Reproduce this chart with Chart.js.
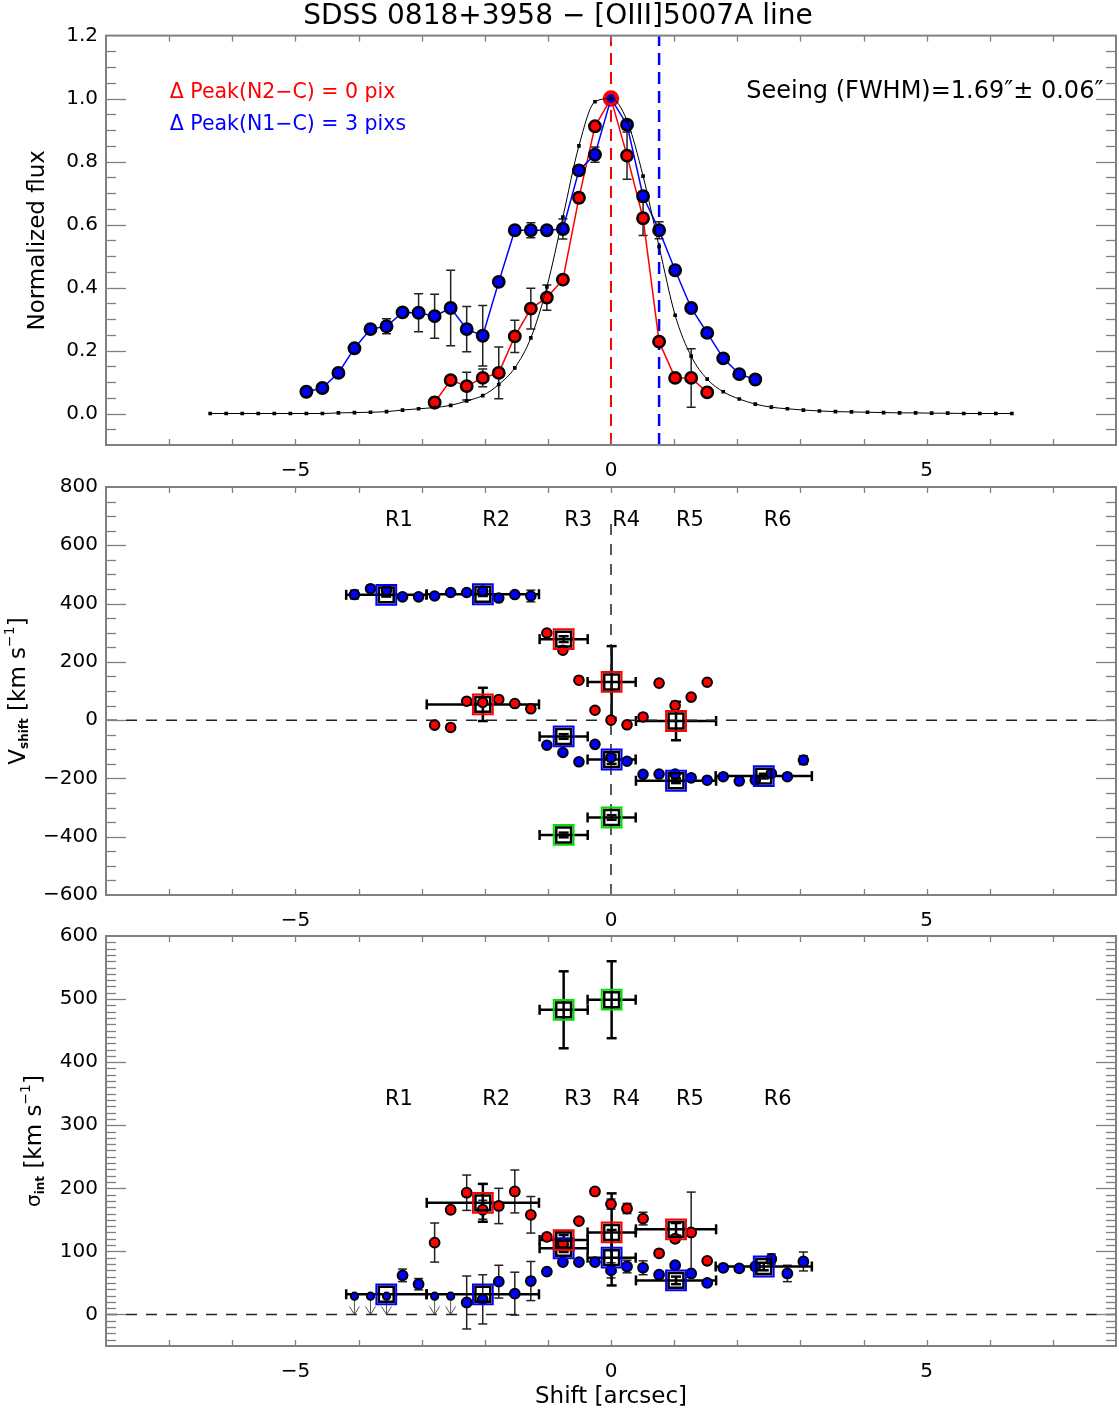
<!DOCTYPE html>
<html><head><meta charset="utf-8">
<script src="https://cdn.jsdelivr.net/npm/chart.js@4/dist/chart.umd.min.js"></script>
<style>
html,body{margin:0;padding:0;background:#fff;overflow:hidden;}
#wrap{position:relative;width:1119px;height:1413px;background:#fff;}
canvas{position:absolute;left:0;top:0;}
</style></head><body><div id="wrap">
<canvas id="c1" width="1119" height="1413"></canvas>
<canvas id="c2" width="1119" height="1413"></canvas>
<canvas id="c3" width="1119" height="1413"></canvas>
</div>
<script>
// ---------------- DATA ----------------
const PIX = 0.254; // arcsec per pixel
function pixRange(a, b) { const r = []; for (let i = a; i <= b; i++) r.push(i); return r; }

// Panel 1: normalized flux profiles
const modelPix = pixRange(-25, 25);
const modelFlux = [0,0,0,0,0,0,0,0,0.002,0.003,0.004,0.006,0.011,0.015,0.019,0.026,0.040,0.057,0.092,0.145,0.240,0.402,
  0.624,0.85,0.99,1.0,0.93,0.754,0.53,0.312,0.182,0.109,0.069,0.046,0.030,0.020,0.015,0.011,
  0.008,0.006,0.005,0.004,0.003,0.002,0.002,0.001,0.001,0,0,0,0];
const n2FluxPix = pixRange(-11, 6);
const n2Flux    = [0.035,0.106,0.087,0.113,0.129,0.245,0.333,0.368,0.425,0.685,0.912,1.0,0.819,0.62,0.228,0.113,0.113,0.067];
const n2FluxErr = [0.016,0,0.044,0.028,0.082,0.051,0.065,0.04,0,0.015,0.01,0,0.075,0.055,0,0,0.093,0];
const n1FluxPix = pixRange(-19, 9);
const n1Flux    = [0.069,0.081,0.129,0.207,0.268,0.277,0.321,0.320,0.309,0.335,0.268,0.247,0.418,0.582,0.582,0.582,0.586,
  0.772,0.822,1.0,0.917,0.69,0.582,0.455,0.335,0.256,0.175,0.125,0.108];
const n1FluxErr = [0,0,0,0,0,0.024,0,0.06,0.07,0.12,0.072,0.096,0.01,0,0.024,0.013,0.032,0,0.024,0,0,0.015,0.027,0,0,0,0,0,0];
const peakShiftN2 = 0, peakShiftN1 = 3; // pixels

// Panel 2: velocity shifts
const n1VelPix = pixRange(-16, 12);
const n1Vel    = [431,451,446,423,423,426,438,438,443,419,431,426,-86,-111,-143,-83,-128,-141,
  -186,-185,-185,-198,-206,-194,-209,-206,-183,-194,-137];
const n1VelErr = [15,0,0,0,0,0,0,0,0,0,0,20,0,0,0,0,0,0,0,0,0,10,0,0,0,0,0,0,15];
const n2VelPix = pixRange(-11, 6);
const n2Vel    = [-17,-25,65,61,71,57,39,299,240,137,34,0,-16,11,127,50,79,130];
const n2VelErr = [0,0,0,0,0,0,0,0,0,0,0,0,0,0,0,10,0,0];

// Regions
const regionNames = ['R1','R2','R3','R4','R5','R6'];
const regionCenter = [-3.56,-2.03,-0.75,0.01,1.03,2.42];
const regionHalfWidth = [0.635,0.889,0.381,0.381,0.635,0.762];
const regionLabelX = [-3.36,-1.82,-0.52,0.24,1.25,2.64];
const n2RegIdx = [1,2,3,4];
const brRegIdx = [2,3];
const n1RegVel = [430,432,-56,-135,-208,-192];
const n1RegVelErr = [6,6,8,15,8,8];
const n2RegVel = [54,278,131,-3];
const n2RegVelErr = [57,10,123,66];
const brRegVel = [-394,-334];
const brRegVelErr = [8,8];

// Panel 3: intrinsic dispersion
const n1SigPix = pixRange(-16, 12);
const n1Sig    = [29,29,29,62,48,29,29,19,24,52,33,53,68,83,83,83,70,76,74,63,78,65,50,74,73,76,88,65,84];
const n1SigErr = [0,0,0,10,9,0,0,42,39,26,34,31,0,0,0,0,12,10,11,0,0,0,0,0,0,0,8,13,15];
const n1SigUL  = [1,1,1,0,0,1,1,0,0,0,0,0,0,0,0,0,0,0,0,0,0,0,0,0,0,0,0,0,0];
const n2SigPix = pixRange(-11, 6);
const n2Sig    = [114,166,193,166,172,195,158,123,113,148,195,175,168,152,97,120,130,85];
const n2SigErr = [31,0,28,15,28,34,29,0,0,0,0,8,8,10,0,5,64,0];
const n1RegSig = [32,32,105,90,54,76];
const n1RegSigErr = [0,0,6,44,6,6];
const n2RegSig = [177,118,130,135];
const n2RegSigErr = [30,8,62,10];
const brRegSig = [483,499];
const brRegSigErr = [61,61];

const xTickLabels = [-5,0,5];

// ---------------- HELPERS ----------------
const FONT = "'DejaVu Sans', sans-serif";
Chart.defaults.font.family = FONT;
const RED = '#ff0000', BLUE = '#0000ff', GREEN = '#00e000';
const pts = (xs, ys) => xs.map((x, i) => ({x: x, y: ys[i]}));
const px2as = arr => arr.map(p => p * PIX);
const minus = s => String(s).replace('-', '\u2212');
const ERR_THIN = {errWidth: 1.5, errCap: 4.5, errColor: '#222'};
const ERR_THICK = {errWidth: 2.5, errCap: 5, errColor: '#000'};
const PLOT_LEFT = 106, PLOT_RIGHT = 1116;

const errPlugin = {
  id: 'errbars',
  beforeDatasetsDraw(chart) {
    const {ctx, chartArea: a} = chart; const xs = chart.scales.x, ys = chart.scales.y;
    ctx.save(); ctx.beginPath(); ctx.rect(a.left, a.top, a.right - a.left, a.bottom - a.top); ctx.clip();
    const seg = (x1, y1, x2, y2) => { ctx.beginPath(); ctx.moveTo(x1, y1); ctx.lineTo(x2, y2); ctx.stroke(); };
    chart.data.datasets.forEach(ds => {
      if (!ds.errX && !ds.errY && !ds.upper) return;
      ds.data.forEach((p, i) => {
        ctx.strokeStyle = ds.errColor || '#000'; ctx.lineWidth = ds.errWidth || 1.5; const c = ds.errCap || 4;
        const px = xs.getPixelForValue(p.x), py = ys.getPixelForValue(p.y);
        const ey = ds.errY ? ds.errY[i] : 0, ex = ds.errX ? ds.errX[i] : 0;
        if (ey) { const y1 = ys.getPixelForValue(p.y - ey), y2 = ys.getPixelForValue(p.y + ey);
          seg(px, y1, px, y2); seg(px - c, y1, px + c, y1); seg(px - c, y2, px + c, y2); }
        if (ex) { const x1 = xs.getPixelForValue(p.x - ex), x2 = xs.getPixelForValue(p.x + ex);
          seg(x1, py, x2, py); seg(x1, py - c, x1, py + c); seg(x2, py - c, x2, py + c); }
        if (ds.upper && ds.upper[i]) { const y0 = ys.getPixelForValue(0);
          ctx.strokeStyle = '#555'; ctx.lineWidth = 1;
          seg(px, py, px, y0); seg(px - 5, y0 - 8, px, y0); seg(px + 5, y0 - 8, px, y0); }
      });
    });
    ctx.restore();
  }
};

const decorPlugin = {
  id: 'decor',
  afterDatasetsDraw(chart, args, o) {
    const {ctx, chartArea: a} = chart; const xs = chart.scales.x, ys = chart.scales.y;
    ctx.save();
    (o.texts || []).forEach(t => {
      ctx.font = t.font; ctx.fillStyle = t.color || '#000'; ctx.textAlign = t.align || 'center'; ctx.textBaseline = 'middle';
      ctx.fillText(t.text, xs.getPixelForValue(t.x), ys.getPixelForValue(t.y));
    });
    const seg = (x1, y1, x2, y2) => { ctx.beginPath(); ctx.moveTo(x1, y1); ctx.lineTo(x2, y2); ctx.stroke(); };
    ctx.strokeStyle = '#808080'; ctx.lineWidth = 2;
    ctx.strokeRect(a.left, a.top, a.right - a.left, a.bottom - a.top);
    ctx.lineWidth = 1.3;
    for (let k = Math.ceil(xs.min / o.xMinor); k * o.xMinor < xs.max; k++) {
      const v = k * o.xMinor; if (v <= xs.min) continue;
      const p = Math.round(xs.getPixelForValue(v)) + 0.5;
      seg(p, a.bottom, p, a.bottom - 6); seg(p, a.top, p, a.top + 6);
    }
    for (let k = Math.ceil(ys.min / o.yMinor - 1e-6); k * o.yMinor < ys.max - 1e-9; k++) {
      const v = k * o.yMinor; if (v <= ys.min + 1e-9) continue;
      const r = v / o.yMajor; const major = Math.abs(r - Math.round(r)) < 1e-6;
      const L = major ? 20 : 10;
      const p = Math.round(ys.getPixelForValue(v)) + 0.5;
      seg(a.left, p, a.left + L, p); seg(a.right, p, a.right - L, p);
    }
    if (o.yTitle) {
      const t = o.yTitle; const cy = (a.top + a.bottom) / 2;
      ctx.translate(t.x, cy); ctx.rotate(-Math.PI / 2);
      ctx.fillStyle = '#000'; ctx.textBaseline = 'middle'; ctx.textAlign = 'left';
      let w = 0;
      t.parts.forEach(p => { ctx.font = (p.bold ? 'bold ' : '') + p.size + 'px ' + FONT; w += ctx.measureText(p.t).width; });
      let x = -w / 2;
      t.parts.forEach(p => { ctx.font = (p.bold ? 'bold ' : '') + p.size + 'px ' + FONT; ctx.fillText(p.t, x, p.dy || 0); x += ctx.measureText(p.t).width; });
    }
    ctx.restore();
  }
};

function scales(o) {
  return {
    x: {
      type: 'linear', min: -8, max: 8,
      afterBuildTicks: s => { s.ticks = xTickLabels.map(v => ({value: v})); },
      afterFit: s => { s.height = o.xHeight; s.paddingLeft = 0; s.paddingRight = 0; },
      grid: {display: false, drawTicks: false}, border: {display: false},
      ticks: {padding: 14, color: '#000', font: {family: FONT, size: 20}, maxRotation: 0, autoSkip: false, callback: v => minus(v)},
      title: o.xTitle ? {display: true, text: o.xTitle, color: '#000', font: {family: FONT, size: 23}, padding: {top: 0, bottom: 2}} : {display: false}
    },
    y: {
      type: 'linear', min: o.ymin, max: o.ymax,
      afterBuildTicks: s => { s.ticks = o.yLabels.map(v => ({value: v})); },
      afterFit: s => { s.width = PLOT_LEFT; s.paddingTop = 0; s.paddingBottom = 0; },
      grid: {display: false, drawTicks: false}, border: {display: false},
      ticks: {padding: 8, color: '#000', font: {family: FONT, size: 20}, autoSkip: false, callback: v => minus(o.fmt(v))},
      title: o.yTitle ? {display: true, text: o.yTitle, color: '#000', font: {family: FONT, size: 23}, padding: {top: 24, bottom: 0}} : {display: false}
    }
  };
}

function squareSets(xv, yv, xe, ye, color, order) {
  const data = pts(xv, yv);
  return [
    {data: data, pointStyle: 'rect', pointRadius: 14, pointBorderWidth: 2, pointBorderColor: color, pointBackgroundColor: 'rgba(0,0,0,0)', order: order},
    Object.assign({data: data, pointStyle: 'rect', pointRadius: 10.5, pointBorderWidth: 2.5, pointBorderColor: '#000', pointBackgroundColor: 'rgba(0,0,0,0)', errX: xe, errY: ye, order: order - 0.5}, ERR_THICK)
  ];
}
function dashed(x1, y1, x2, y2, color, width, dash) {
  return {data: [{x: x1, y: y1}, {x: x2, y: y2}], showLine: true, borderColor: color, borderWidth: width, borderDash: dash, pointRadius: 0, order: 50};
}
function baseOpts(padTop, sc, decor, title) {
  return {
    responsive: false, animation: false, devicePixelRatio: 1,
    layout: {autoPadding: false, padding: {top: padTop, left: 0, right: 1119 - PLOT_RIGHT, bottom: 0}},
    plugins: {legend: {display: false}, tooltip: {enabled: false},
      title: title ? {display: true, text: title, color: '#000', font: {family: FONT, size: 28, weight: 'normal'}, padding: {top: 0, bottom: 2}} : {display: false},
      decor: decor},
    scales: sc
  };
}
const regionTexts = yv => regionNames.map((n, i) => ({x: regionLabelX[i], y: yv, text: n, font: '21px ' + FONT}));

// ---------------- CHART 1 ----------------
new Chart(document.getElementById('c1'), {
  type: 'scatter',
  data: {datasets: [
    {data: pts(px2as(modelPix), modelFlux), showLine: true, borderColor: '#000', borderWidth: 1, cubicInterpolationMode: 'monotone',
      pointStyle: 'rect', pointRadius: 2.6, pointBackgroundColor: '#000', pointBorderWidth: 0, order: 0},
    Object.assign({data: pts(px2as(n1FluxPix), n1Flux), showLine: true, borderColor: BLUE, borderWidth: 1.5,
      pointRadius: 5.7, pointBackgroundColor: BLUE, pointBorderColor: c => n1FluxPix[c.dataIndex] === 0 ? RED : '#000', pointBorderWidth: 2.5,
      errY: n1FluxErr, order: 1}, ERR_THIN),
    Object.assign({data: pts(px2as(n2FluxPix), n2Flux), showLine: true, borderColor: RED, borderWidth: 1.5,
      pointRadius: c => n2FluxPix[c.dataIndex] === 0 ? 7 : 5.7, pointBackgroundColor: RED,
      pointBorderColor: c => n2FluxPix[c.dataIndex] === 0 ? RED : '#000', pointBorderWidth: 2.5,
      errY: n2FluxErr, order: 2}, ERR_THIN),
    dashed(peakShiftN2 * PIX, -0.1, peakShiftN2 * PIX, 1.2, RED, 2, [12, 7]),
    dashed(peakShiftN1 * PIX, -0.1, peakShiftN1 * PIX, 1.2, BLUE, 2.5, [12, 7])
  ]},
  options: baseOpts(0,
    scales({ymin: -0.1, ymax: 1.2, yLabels: [0, 0.2, 0.4, 0.6, 0.8, 1.0, 1.2], fmt: v => v.toFixed(1), xHeight: 1413 - 445, yTitle: 'Normalized flux'}),
    {xMinor: 1, yMinor: 0.05, yMajor: 0.2, texts: [
      {x: -6.99, y: 1.02, text: '\u0394 Peak(N2\u2212C) = 0 pix', color: RED, font: '20.5px ' + FONT, align: 'left'},
      {x: -6.99, y: 0.917, text: '\u0394 Peak(N1\u2212C) = 3 pixs', color: BLUE, font: '20.5px ' + FONT, align: 'left'},
      {x: 7.8, y: 1.022, text: 'Seeing (FWHM)=1.69\u2033\u00b1 0.06\u2033', color: '#000', font: '24px ' + FONT, align: 'right'}
    ]},
    'SDSS 0818+3958 \u2212 [OIII]5007A line'),
  plugins: [errPlugin, decorPlugin]
});

// ---------------- CHART 2 ----------------
const n2RegX = n2RegIdx.map(i => regionCenter[i]), n2RegXe = n2RegIdx.map(i => regionHalfWidth[i]);
const brRegX = brRegIdx.map(i => regionCenter[i]), brRegXe = brRegIdx.map(i => regionHalfWidth[i]);
new Chart(document.getElementById('c2'), {
  type: 'scatter',
  data: {datasets: [
    dashed(-8, 0, 8, 0, '#222', 1.5, [11, 9]),
    dashed(0, -600, 0, 680, '#222', 1.5, [11, 9]),
    Object.assign({data: pts(px2as(n1VelPix), n1Vel), pointRadius: 4.8, pointBackgroundColor: BLUE, pointBorderColor: '#000', pointBorderWidth: 2, errY: n1VelErr, order: 6}, ERR_THIN),
    Object.assign({data: pts(px2as(n2VelPix), n2Vel), pointRadius: 4.8, pointBackgroundColor: RED, pointBorderColor: '#000', pointBorderWidth: 2, errY: n2VelErr, order: 5}, ERR_THIN),
    ...squareSets(regionCenter, n1RegVel, regionHalfWidth, n1RegVelErr, BLUE, 4),
    ...squareSets(n2RegX, n2RegVel, n2RegXe, n2RegVelErr, RED, 3),
    ...squareSets(brRegX, brRegVel, brRegXe, brRegVelErr, GREEN, 2)
  ]},
  options: baseOpts(487,
    scales({ymin: -600, ymax: 800, yLabels: [-600, -400, -200, 0, 200, 400, 600, 800], fmt: v => String(v), xHeight: 1413 - 895}),
    {xMinor: 1, yMinor: 50, yMajor: 200, texts: regionTexts(686),
      yTitle: {x: 19, parts: [{t: 'V', size: 23}, {t: 'shift', size: 12, dy: 6, bold: true}, {t: ' [km s', size: 23}, {t: '\u22121', size: 14, dy: -9}, {t: ']', size: 23}]}}),
  plugins: [errPlugin, decorPlugin]
});

// ---------------- CHART 3 ----------------
new Chart(document.getElementById('c3'), {
  type: 'scatter',
  data: {datasets: [
    dashed(-8, 0, 8, 0, '#222', 1.5, [11, 9]),
    Object.assign({data: pts(px2as(n1SigPix), n1Sig), pointRadius: c => n1SigUL[c.dataIndex] ? 3.6 : 4.9, pointBackgroundColor: BLUE, pointBorderColor: '#000', pointBorderWidth: 2,
      errY: n1SigErr, upper: n1SigUL, order: 6}, ERR_THIN),
    Object.assign({data: pts(px2as(n2SigPix), n2Sig), pointRadius: 4.9, pointBackgroundColor: RED, pointBorderColor: '#000', pointBorderWidth: 2, errY: n2SigErr, order: 5}, ERR_THIN),
    ...squareSets(regionCenter, n1RegSig, regionHalfWidth, n1RegSigErr, BLUE, 4),
    ...squareSets(n2RegX, n2RegSig, n2RegXe, n2RegSigErr, RED, 3),
    ...squareSets(brRegX, brRegSig, brRegXe, brRegSigErr, GREEN, 2)
  ]},
  options: baseOpts(936,
    scales({ymin: -50, ymax: 600, yLabels: [0, 100, 200, 300, 400, 500, 600], fmt: v => String(v), xHeight: 1413 - 1346, xTitle: 'Shift [arcsec]'}),
    {xMinor: 1, yMinor: 10, yMajor: 100, texts: regionTexts(340),
      yTitle: {x: 35, parts: [{t: '\u03c3', size: 20}, {t: 'int', size: 12, dy: 6, bold: true}, {t: ' [km s', size: 23}, {t: '\u22121', size: 14, dy: -9}, {t: ']', size: 23}]}}),
  plugins: [errPlugin, decorPlugin]
});
</script>
</body></html>
